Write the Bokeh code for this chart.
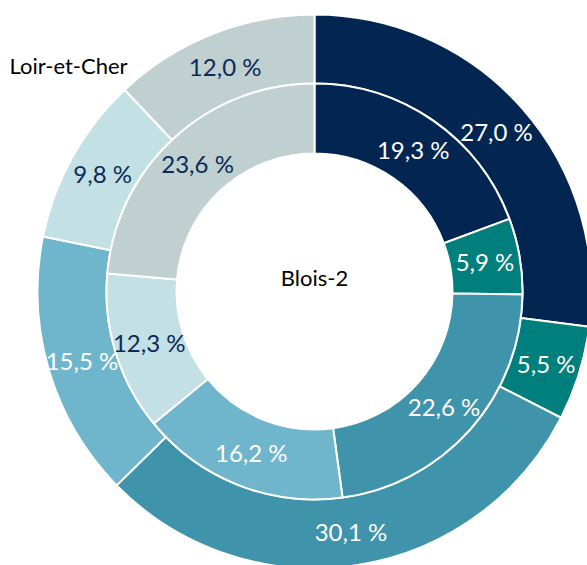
import math
from bokeh.plotting import figure
from bokeh.models import Range1d, ColumnDataSource
from bokeh.core.properties import value
from bokeh.embed import file_html
from bokeh.resources import INLINE

categories = ["A", "B", "C", "D", "E", "F"]
outer_name = "Loir-et-Cher"
inner_name = "Blois-2"
outer_values = [27.0, 5.5, 30.1, 15.5, 9.8, 12.0]
inner_values = [19.3, 5.9, 22.6, 16.2, 12.3, 23.6]
colors = ["#022552", "#007f7d", "#3f93aa", "#6fb5cc", "#c3e0e5", "#c0cfd0"]
label_colors = ["white", "white", "white", "white", "#0b2a55", "#0b2a55"]

W, H = 587, 565
CX, CY = 314, 291  # center in figure pixel coords (from top-left)

p = figure(width=W, height=H, output_backend="svg", toolbar_location=None,
           x_range=Range1d(-CX, W - CX), y_range=Range1d(-(H - CY), CY),
           min_border=0, outline_line_color=None)
p.axis.visible = False
p.grid.visible = False
p.background_fill_color = "white"

R_HOLE, R_MID, R_OUT = 138, 208, 277


def ring(vals, r0, r1):
    total = sum(vals)
    cum = 0.0
    starts, ends, lx, ly, txt = [], [], [], [], []
    for v in vals:
        a0 = math.pi / 2 - 2 * math.pi * cum / total
        cum += v
        a1 = math.pi / 2 - 2 * math.pi * cum / total
        starts.append(a0)
        ends.append(a1)
        am = (a0 + a1) / 2
        rm = (r0 + r1) / 2
        lx.append(rm * math.cos(am))
        ly.append(rm * math.sin(am))
        txt.append(("%.1f" % v).replace(".", ",") + " %")
    src = ColumnDataSource(dict(start=starts, end=ends, color=colors,
                                lx=lx, ly=ly, txt=txt, tc=label_colors))
    p.annular_wedge(x=0, y=0, inner_radius=r0, outer_radius=r1,
                    start_angle="end", end_angle="start", direction="anticlock",
                    fill_color="color", line_color="white", line_width=2,
                    source=src)
    p.text(x="lx", y="ly", text="txt", text_color="tc", source=src,
           text_align="center", text_baseline="middle",
           text_font=value("Lato"), text_font_size="24px")


ring(outer_values, R_MID, R_OUT)
ring(inner_values, R_HOLE, R_MID)

p.text(x=[0], y=[CY - 277], text=[inner_name], text_align="center",
       text_baseline="middle", text_font=value("Lato"), text_font_size="22px",
       text_color="black")
p.text(x=[68 - CX], y=[CY - 65], text=[outer_name], text_align="center",
       text_baseline="middle", text_font=value("Lato"), text_font_size="22px",
       text_color="black")

open("out.html", "w").write(file_html(p, INLINE))
